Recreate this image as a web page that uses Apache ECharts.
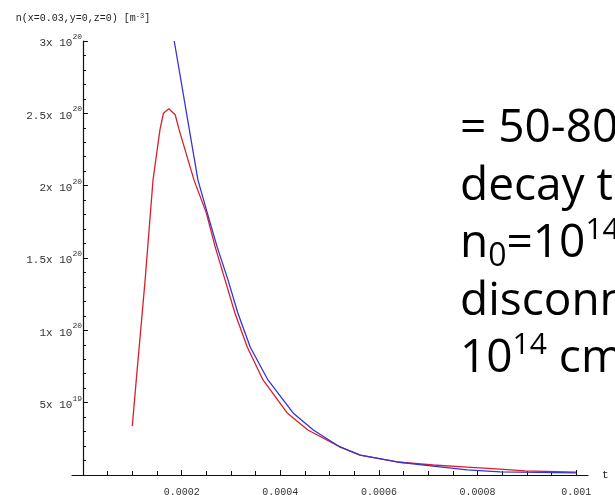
<!DOCTYPE html>
<html>
<head>
<meta charset="utf-8">
<script src="https://cdn.jsdelivr.net/npm/echarts@6/dist/echarts.min.js"></script>
<style>
  html, body { margin: 0; padding: 0; background: #fff; }
  #chart { width: 615px; height: 495px; }
</style>
</head>
<body>
<div id="chart"></div>
<script>
// Density at (x=0.03, y=0, z=0) versus time, two model runs.
const tRed = [0.000100, 0.000108, 0.000126, 0.000142, 0.000156, 0.000163, 0.000174, 0.000187, 0.000195,
              0.000225, 0.000250, 0.000268, 0.000288, 0.000308, 0.000333, 0.000365, 0.000414, 0.000456,
              0.000521, 0.000562, 0.000637, 0.000710, 0.000779, 0.000846, 0.000897, 0.001000];
const nRed = [0.339e20, 0.657e20, 1.349e20, 2.04e20, 2.386e20, 2.50e20, 2.531e20, 2.49e20, 2.386e20,
              2.04e20, 1.812e20, 1.577e20, 1.349e20, 1.12e20, 0.885e20, 0.657e20, 0.429e20, 0.311e20,
              0.194e20, 0.138e20, 0.090e20, 0.069e20, 0.055e20, 0.041e20, 0.028e20, 0.020e20];

const tBlue = [0.000185, 0.000233, 0.000252, 0.000272, 0.000294, 0.000314, 0.000339, 0.000375, 0.000426,
               0.000467, 0.000521, 0.000562, 0.000637, 0.000710, 0.000779, 0.000846, 0.001000];
const nBlue = [3.0e20, 2.04e20, 1.812e20, 1.577e20, 1.349e20, 1.12e20, 0.885e20, 0.657e20, 0.429e20,
               0.311e20, 0.194e20, 0.138e20, 0.090e20, 0.062e20, 0.035e20, 0.021e20, 0.015e20];

// Axis ticks
const xMajorTicks = [0.0002, 0.0004, 0.0006, 0.0008, 0.001];
const xMinorTicks = [0.00005, 0.0001, 0.00015, 0.00025, 0.0003, 0.00035, 0.00045, 0.0005, 0.00055,
                     0.00065, 0.0007, 0.00075, 0.00085, 0.0009, 0.00095];
const xLabels = ['0.0002', '0.0004', '0.0006', '0.0008', '0.001'];
const yMax = 3e20;
const yStep = 5e19;

const MONO = '"Liberation Mono", "DejaVu Sans Mono", monospace';
const pair = (ts, ns) => ts.map((t, i) => [t, ns[i]]);

function yLabel(v) {
  if (v === 0) return '';
  const exp = Math.floor(Math.log10(v) + 1e-9);
  const mant = +(v / Math.pow(10, exp)).toFixed(2);
  return '{b|' + mant + 'x 10}{s|' + exp + '}';
}

const chart = echarts.init(document.getElementById('chart'), null, { renderer: 'canvas' });

chart.setOption({
  animation: false,
  backgroundColor: '#ffffff',
  grid: { left: 72, right: 27, top: 41, bottom: 20, containLabel: false, outerBoundsMode: 'none' },
  xAxis: [{
    type: 'value',
    min: -0.0000223,
    max: 0.001024,
    position: 'bottom',
    name: 't [s]',
    nameLocation: 'end',
    nameGap: 14,
    nameTextStyle: { fontFamily: MONO, fontSize: 11, color: '#222', verticalAlign: 'middle' },
    axisLine: { onZero: true, lineStyle: { color: '#111', width: 1.2 } },
    axisTick: { inside: true, length: 5, customValues: xMajorTicks, lineStyle: { color: '#111' } },
    axisLabel: {
      customValues: xMajorTicks,
      margin: 12,
      fontFamily: MONO, fontSize: 10, color: '#333',
      formatter: v => xLabels[xMajorTicks.findIndex(m => Math.abs(m - v) < 1e-9)] || ''
    },
    splitLine: { show: false }
  }, {
    type: 'value',
    min: -0.0000223,
    max: 0.001024,
    position: 'bottom',
    offset: 0,
    axisLine: { show: false },
    axisTick: { inside: true, length: 4, customValues: xMinorTicks, lineStyle: { color: '#111' } },
    axisLabel: { show: false },
    splitLine: { show: false }
  }],
  yAxis: {
    type: 'value',
    min: 0,
    max: yMax,
    interval: yStep,
    name: 'n(x=0.03,y=0,z=0) [m{s|-3}]',
    nameLocation: 'end',
    nameGap: 18,
    nameTextStyle: {
      fontFamily: MONO, fontSize: 10, color: '#222',
      rich: { s: { fontFamily: MONO, fontSize: 7, verticalAlign: 'top', lineHeight: 8, color: '#222' } }
    },
    axisLine: { onZero: true, onZeroAxisIndex: 0, lineStyle: { color: '#111', width: 1.2 } },
    axisTick: { inside: true, length: 5, lineStyle: { color: '#111' } },
    minorTick: { show: true, splitNumber: 5, length: 3, lineStyle: { color: '#111' } },
    axisLabel: {
      margin: -10,
      formatter: yLabel,
      rich: {
        b: { fontFamily: MONO, fontSize: 11, color: '#333', lineHeight: 16, verticalAlign: 'bottom' },
        s: { fontFamily: MONO, fontSize: 8, color: '#333', lineHeight: 9, verticalAlign: 'top' }
      }
    },
    splitLine: { show: false },
    minorSplitLine: { show: false }
  },
  series: [{
    name: 'model A',
    type: 'line',
    data: pair(tRed, nRed),
    showSymbol: false,
    smooth: false,
    lineStyle: { color: '#d8202a', width: 1.3 },
    z: 3
  }, {
    name: 'model B',
    type: 'line',
    data: pair(tBlue, nBlue),
    showSymbol: false,
    smooth: false,
    lineStyle: { color: '#3a32d4', width: 1.3 },
    z: 4
  }],
  graphic: [{
    type: 'text',
    left: 460,
    top: 106,
    silent: true,
    style: {
      text: '{n|= 50-80 μs}\n{n|decay time}\n{n|n}{sub|0}{n|=10}{sup|14}{n| cm}{sup|-3}\n{n|disconnection}\n{n|10}{sup|14}{n| cm}{sup|-3}',
      fill: '#000',
      rich: {
        n: { fontFamily: '"Open Sans", sans-serif', fontSize: 46, lineHeight: 57.5, fill: '#000' },
        sup: { fontFamily: '"Open Sans", sans-serif', fontSize: 30, lineHeight: 30, verticalAlign: 'top', fill: '#000' },
        sub: { fontFamily: '"Open Sans", sans-serif', fontSize: 32, lineHeight: 41, verticalAlign: 'bottom', fill: '#000' }
      }
    }
  }]
});
</script>
</body>
</html>
